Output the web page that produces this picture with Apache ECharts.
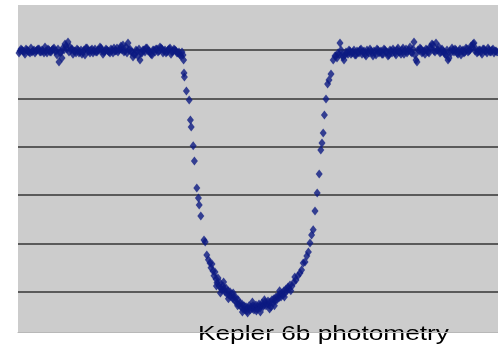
<!DOCTYPE html>
<html>
<head>
<meta charset="utf-8">
<title>Kepler 6b photometry</title>
<script src="https://cdn.jsdelivr.net/npm/echarts@6/dist/echarts.min.js"></script>
<style>
	html, body { margin: 0; padding: 0; background: #ffffff; }
	#chart { width: 498px; height: 353px; }
</style>
</head>
<body>
<div id="chart"></div>
<script>
	// time from mid-transit (hours), relative flux
	const preTransit = [
		[-5.95,0.99996],[-5.90,1.00000],[-5.85,0.99992],[-5.80,1.00004],[-5.75,0.99996],[-5.70,0.99988],[-5.65,0.99992],[-5.60,1.00000],
		[-5.55,0.99996],[-5.50,1.00004],[-5.45,0.99992],[-5.40,1.00000],[-5.35,0.99988],[-5.30,0.99996],[-5.25,1.00004],[-5.20,0.99992],
		[-5.15,1.00000],[-5.10,1.00008],[-5.05,0.99996],[-5.00,1.00004],[-4.95,0.99988],[-4.90,0.99967],[-4.85,1.00000],[-4.80,1.00017],
		[-4.75,1.00033],[-4.70,1.00012],[-4.65,1.00004],[-4.60,0.99996],[-4.55,0.99988],[-4.50,1.00000],[-4.45,0.99992],[-4.40,0.99983],
		[-4.35,1.00000],[-4.30,1.00008],[-4.25,0.99996],[-4.20,0.99988],[-4.15,1.00004],[-4.10,0.99996],[-4.05,0.99992],[-4.00,1.00000],
		[-3.95,1.00012],[-3.90,0.99996],[-3.85,0.99992],[-3.80,1.00004],[-3.75,0.99996],[-3.70,0.99988],[-3.65,1.00000],[-3.60,1.00008],
		[-3.55,0.99996],[-3.50,0.99992],[-3.45,1.00004],[-3.40,1.00000],[-3.35,0.99992],[-3.30,1.00012],[-3.25,1.00029],[-3.20,1.00004],
		[-3.15,0.99992],[-3.10,0.99983],[-3.05,1.00000],[-3.00,0.99975],[-2.95,0.99959],[-2.90,0.99988],[-2.85,1.00000],[-2.80,1.00008],
		[-2.75,0.99996],[-2.70,0.99992],[-2.65,0.99979],[-2.60,1.00000],[-2.55,1.00004],[-2.50,0.99992],[-2.45,1.00012],[-2.40,1.00004],
		[-2.35,0.99996],[-2.30,0.99988],[-2.25,1.00000],[-2.20,1.00008],[-2.15,0.99992],[-2.10,1.00004],[-2.05,0.99996],[-2.00,0.99988],
		[-1.95,0.99979]
	];
	const preTransitOdd = [
		[-5.975,0.99988],[-5.925,1.00004],[-5.875,0.99996],[-5.825,0.99983],[-5.775,1.00000],[-5.725,0.99992],[-5.675,1.00008],[-5.625,0.99996],
		[-5.575,0.99988],[-5.525,1.00000],[-5.475,1.00004],[-5.425,0.99992],[-5.375,0.99996],[-5.325,1.00012],[-5.275,0.99988],[-5.225,1.00000],
		[-5.175,0.99992],[-5.125,1.00004],[-5.075,0.99996],[-5.025,0.99979],[-4.975,0.99950],[-4.925,0.99992],[-4.875,1.00008],[-4.825,1.00025],
		[-4.775,1.00004],[-4.725,0.99992],[-4.675,1.00000],[-4.625,0.99983],[-4.575,0.99996],[-4.525,1.00004],[-4.475,0.99988],[-4.425,1.00000],
		[-4.375,0.99992],[-4.325,0.99979],[-4.275,1.00008],[-4.225,0.99996],[-4.175,1.00000],[-4.125,0.99988],[-4.075,1.00004],[-4.025,0.99992],
		[-3.975,1.00000],[-3.925,1.00008],[-3.875,0.99983],[-3.825,0.99996],[-3.775,1.00000],[-3.725,0.99992],[-3.675,1.00004],[-3.625,0.99988],
		[-3.575,0.99996],[-3.525,1.00008],[-3.475,1.00000],[-3.425,1.00017],[-3.375,1.00021],[-3.325,0.99996],[-3.275,0.99988],[-3.225,1.00000],
		[-3.175,0.99992],[-3.125,0.99971],[-3.075,0.99983],[-3.025,0.99996],[-2.975,1.00004],[-2.925,0.99988],[-2.875,1.00000],[-2.825,0.99992],
		[-2.775,1.00008],[-2.725,0.99996],[-2.675,0.99983],[-2.625,1.00000],[-2.575,0.99992],[-2.525,1.00004],[-2.475,0.99996],[-2.425,1.00008],
		[-2.375,0.99988],[-2.325,1.00000],[-2.275,0.99992],[-2.225,1.00004],[-2.175,0.99983],[-2.125,0.99996],[-2.075,1.00000],[-2.025,0.99988],
		[-1.975,0.99992],[-1.925,0.99975]
	];
	const ingress = [
		[-1.90,0.99992],[-1.875,0.99979],[-1.86,0.99959],[-1.85,0.99905],[-1.84,0.99889],[-1.79,0.99831],[-1.72,0.99794],
		[-1.69,0.99711],[-1.67,0.99682],[-1.62,0.99604],[-1.59,0.99542],[-1.53,0.99430],[-1.49,0.99389],[-1.47,0.99360],
		[-1.43,0.99314],[-1.35,0.99215],[-1.32,0.99207],[-1.28,0.99153],[-1.24,0.99133],[-1.20,0.99120]
	];
	const transitFloor = [
		[-1.175,0.99100],[-1.15,0.99116],[-1.125,0.99087],[-1.10,0.99067],[-1.075,0.99083],[-1.05,0.99054],[-1.025,0.99038],[-1.00,0.99058],
		[-0.975,0.99025],[-0.95,0.99038],[-0.925,0.99017],[-0.90,0.99009],[-0.875,0.99025],[-0.85,0.99013],[-0.825,0.99001],[-0.80,0.99017],
		[-0.775,0.98992],[-0.75,0.99005],[-0.725,0.98988],[-0.70,0.99001],[-0.675,0.98980],[-0.65,0.98992],[-0.625,0.98972],[-0.60,0.98980],
		[-0.575,0.98963],[-0.55,0.98976],[-0.525,0.98955],[-0.50,0.98968],[-0.475,0.98947],[-0.45,0.98955],[-0.425,0.98939],[-0.40,0.98951],
		[-0.375,0.98930],[-0.35,0.98943],[-0.325,0.98926],[-0.30,0.98939],[-0.275,0.98922],[-0.25,0.98934],[-0.225,0.98943],[-0.20,0.98926],
		[-0.175,0.98939],[-0.15,0.98930],[-0.125,0.98943],[-0.10,0.98926],[-0.075,0.98939],[-0.05,0.98947],[-0.025,0.98930],[0.00,0.98939],
		[0.025,0.98951],[0.05,0.98934],[0.075,0.98943],[0.10,0.98955],[0.125,0.98939],[0.15,0.98947],[0.175,0.98959],[0.20,0.98943],
		[0.225,0.98951],[0.25,0.98963],[0.275,0.98947],[0.30,0.98959],[0.325,0.98939],[0.35,0.98968],[0.375,0.98955],[0.40,0.98972],
		[0.425,0.98963],[0.45,0.98980],[0.475,0.98968],[0.50,0.98984],[0.525,0.98976],[0.55,0.98992],[0.575,0.98980],[0.60,0.98996],
		[0.625,0.98988],[0.65,0.99005],[0.675,0.98996],[0.70,0.99013],[0.725,0.99005],[0.75,0.99021],[0.775,0.99013],[0.80,0.99029],
		[0.85,0.99025],[0.90,0.99042],[0.95,0.99050],[1.00,0.99067],[1.05,0.99079],
		[-1.04,0.99025],[-0.94,0.98996],[-0.86,0.99042],[-0.74,0.98972],[-0.62,0.98996],[-0.51,0.98943],[-0.39,0.98918],[-0.26,0.98914],
		[-0.14,0.98959],[-0.04,0.98922],[0.06,0.98918],[0.16,0.98968],[0.29,0.98930],[0.41,0.98943],[0.54,0.99005],[0.66,0.98980],
		[0.82,0.99005],[0.92,0.99062]
	];
	const egress = [
		[1.09,0.99091],[1.13,0.99120],[1.175,0.99124],[1.22,0.99149],[1.26,0.99166],[1.30,0.99203],[1.34,0.99236],[1.38,0.99257],
		[1.425,0.99335],[1.48,0.99409],[1.53,0.99488],[1.57,0.99587],[1.60,0.99616],[1.63,0.99657],[1.66,0.99732],[1.70,0.99798],
		[1.74,0.99860],[1.775,0.99876],[1.825,0.99901],[1.88,0.99959],[1.925,0.99975]
	];
	const postTransit = [
		[1.95,0.99975],[2.00,0.99988],[2.05,1.00029],[2.10,0.99979],[2.15,0.99959],[2.20,0.99992],[2.25,0.99983],[2.30,0.99996],
		[2.35,0.99988],[2.40,1.00000],[2.45,0.99979],[2.50,0.99992],[2.55,1.00000],[2.60,0.99983],[2.65,0.99996],[2.70,0.99975],
		[2.75,0.99992],[2.80,1.00004],[2.85,0.99988],[2.90,0.99996],[2.95,0.99979],[3.00,1.00000],[3.05,0.99992],[3.10,0.99983],
		[3.15,1.00004],[3.20,0.99992],[3.25,0.99975],[3.30,1.00000],[3.35,0.99988],[3.40,0.99996],[3.45,0.99979],[3.50,1.00008],
		[3.55,0.99992],[3.60,1.00000],[3.65,0.99983],[3.70,1.00004],[3.75,0.99996],[3.80,1.00012],[3.85,0.99988],[3.90,1.00033],
		[3.95,0.99959],[4.00,1.00000],[4.05,1.00008],[4.10,0.99988],[4.15,0.99996],[4.20,1.00004],[4.25,0.99992],[4.30,1.00012],
		[4.35,1.00025],[4.40,0.99996],[4.45,1.00029],[4.50,1.00000],[4.55,0.99988],[4.60,1.00004],[4.65,0.99992],[4.70,0.99979],
		[4.75,0.99959],[4.80,0.99996],[4.85,1.00008],[4.90,0.99992],[4.95,1.00000],[5.00,0.99983],[5.05,1.00004],[5.10,0.99996],
		[5.15,0.99988],[5.20,1.00008],[5.25,0.99992],[5.30,1.00000],[5.35,1.00012],[5.40,1.00029],[5.45,1.00004],[5.50,0.99992],
		[5.55,1.00000],[5.60,0.99983],[5.65,1.00004],[5.70,0.99996],[5.75,1.00008],[5.80,0.99992],[5.85,1.00000],[5.90,0.99988],
		[5.95,0.99996]
	];
	const postTransitOdd = [
		[1.975,0.99967],[2.025,0.99983],[2.075,1.00000],[2.125,0.99971],[2.175,0.99979],[2.225,0.99988],[2.275,1.00000],[2.325,0.99983],
		[2.375,0.99992],[2.425,0.99979],[2.475,0.99996],[2.525,0.99988],[2.575,1.00004],[2.625,0.99992],[2.675,0.99983],[2.725,1.00000],
		[2.775,0.99988],[2.825,0.99996],[2.875,0.99975],[2.925,0.99992],[2.975,1.00004],[3.025,0.99988],[3.075,0.99996],[3.125,0.99983],
		[3.175,1.00000],[3.225,0.99992],[3.275,0.99979],[3.325,0.99996],[3.375,1.00004],[3.425,0.99988],[3.475,1.00000],[3.525,0.99992],
		[3.575,0.99983],[3.625,1.00008],[3.675,0.99996],[3.725,0.99988],[3.775,1.00000],[3.825,0.99992],[3.875,1.00004],[3.925,0.99979],
		[3.975,0.99950],[4.025,0.99996],[4.075,1.00004],[4.125,0.99992],[4.175,0.99983],[4.225,1.00000],[4.275,0.99988],[4.325,1.00008],
		[4.375,1.00021],[4.425,0.99992],[4.475,1.00000],[4.525,1.00012],[4.575,0.99992],[4.625,0.99996],[4.675,0.99983],[4.725,1.00000],
		[4.775,0.99967],[4.825,0.99988],[4.875,1.00000],[4.925,1.00004],[4.975,0.99988],[5.025,0.99996],[5.075,0.99979],[5.125,1.00000],
		[5.175,0.99992],[5.225,1.00004],[5.275,0.99996],[5.325,1.00017],[5.375,1.00025],[5.425,0.99996],[5.475,0.99988],[5.525,1.00000],
		[5.575,0.99992],[5.625,1.00004],[5.675,0.99996],[5.725,0.99988],[5.775,1.00000],[5.825,0.99992],[5.875,1.00004],[5.925,0.99996],
		[5.975,0.99992]
	];
	// axis range; grid lines land on every 0.002 of flux (0.990 … 1.000)
	const fluxMin = 0.98835;
	const fluxMax = 1.00186;
	const titleText = 'Kepler 6b photometry';

	const chart = echarts.init(document.getElementById('chart'), null, { renderer: 'canvas' });
	const allPoints = [].concat(preTransit, preTransitOdd, ingress, transitFloor, egress, postTransit, postTransitOdd);

	const option = {
		animation: false,
		backgroundColor: '#ffffff',
		grid: {
			left: 18,
			right: 0,
			top: 5,
			bottom: 21,
			show: true,
			backgroundColor: '#cccccc',
			borderWidth: 0
		},
		xAxis: {
			type: 'value',
			min: -6,
			max: 6,
			axisLine: { show: true, lineStyle: { color: '#b8b8b8', width: 1 } },
			axisTick: { show: false },
			axisLabel: { show: false },
			splitLine: { show: false }
		},
		yAxis: {
			type: 'value',
			min: fluxMin,
			max: fluxMax,
			splitNumber: 6,
			axisLine: { show: false },
			axisTick: { show: false },
			axisLabel: { show: false },
			splitLine: {
				show: true,
				showMinLine: false,
				showMaxLine: false,
				lineStyle: { color: '#5a5a5a', width: 2, type: 'solid' }
			}
		},
		graphic: [{
			type: 'text',
			x: 198,
			y: 324,
			scaleX: 1.25,
			style: {
				text: titleText,
				font: '21px "Liberation Sans", Arial, sans-serif',
				fill: '#000000',
				verticalAlign: 'top'
			}
		}],
		series: [
			{
				name: 'flux',
				type: 'scatter',
				symbol: 'diamond',
				symbolSize: [7, 9],
				itemStyle: { color: '#0c1a82' },
				data: allPoints
			}
		]
	};
	chart.setOption(option);
</script>
</body>
</html>
